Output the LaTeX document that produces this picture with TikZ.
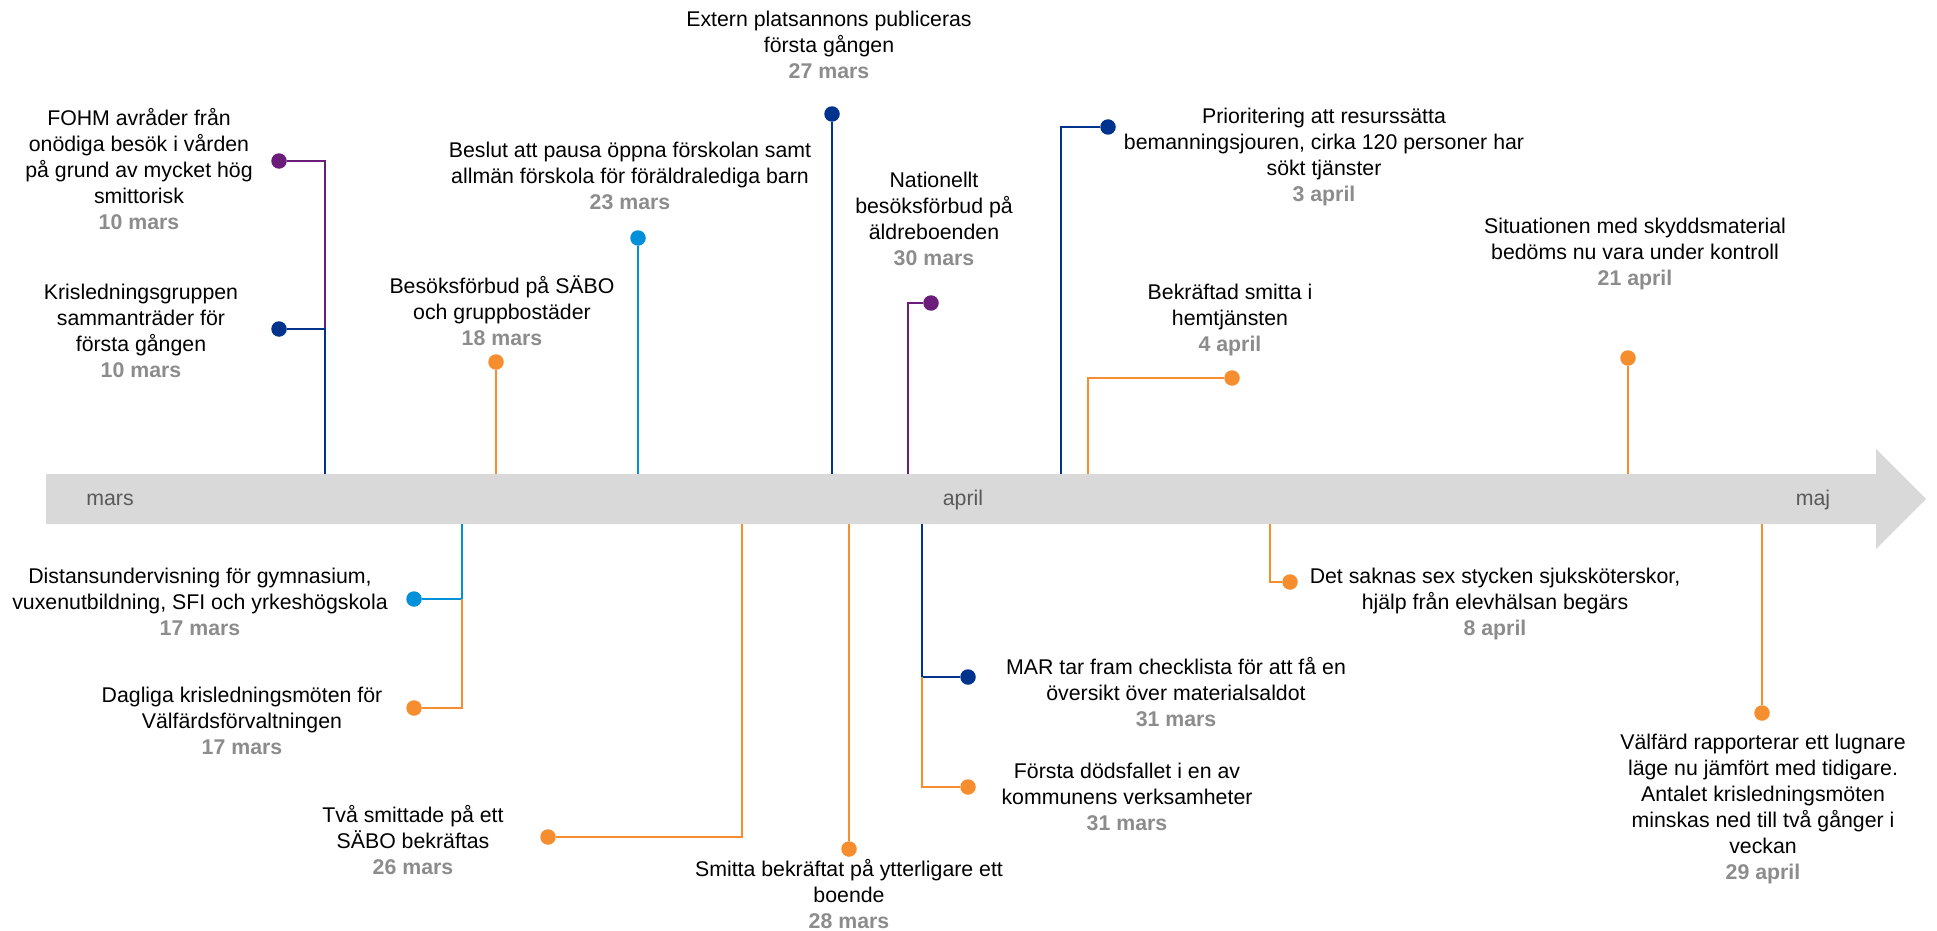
\documentclass[tikz,border=0pt]{standalone}
\usepackage{fontspec}
\setmainfont{Liberation Sans}
\definecolor{evpurple}{HTML}{6C1D7A}
\definecolor{evnavy}{HTML}{00338D}
\definecolor{evlight}{HTML}{0091DA}
\definecolor{evorange}{HTML}{F68D2E}
\definecolor{dategray}{HTML}{8C8C8C}
\definecolor{bandgray}{HTML}{D9D9D9}
\definecolor{monthgray}{HTML}{595959}
\newcommand{\evdate}[1]{{\color{dategray}\bfseries #1}}
\begin{document}
\begin{tikzpicture}[x=1pt,y=-1pt,
  % texts are placed by the baseline of their last line (the date)
  evtext/.style={align=center, anchor=base, inner sep=0pt, font=\fontsize{21.3}{26}\selectfont},
  evdot/.style={circle, fill=#1, inner sep=0pt, minimum size=15.5pt},
  conn/.style={draw=#1, line width=2.5pt},
  monthlabel/.style={text=monthgray, inner sep=0pt, font=\fontsize{21.3}{26}\selectfont}
]
\useasboundingbox (0,0) rectangle (1937,931);

% time axis arrow
\fill[bandgray] (46,474) -- (1876,474) -- (1876,449) -- (1926,499) -- (1876,549)
  -- (1876,524) -- (46,524) -- cycle;
\node[monthlabel] (mmars) at (110,500) {mars};
\node[monthlabel] (mapril) at (963,500) {april};
\node[monthlabel] (mmaj) at (1813,500) {maj};

% attachment points on the axis and connector bends
\coordinate (a1) at (325,474);
\coordinate (k1) at (325,329);
\coordinate (a2) at (496,474);
\coordinate (a3) at (638,474);
\coordinate (a4) at (832,474);
\coordinate (a5) at (908,474);
\coordinate (a6) at (1061,474);
\coordinate (a7) at (1088,474);
\coordinate (a8) at (1628,474);
\coordinate (b1) at (462,524);
\coordinate (k2) at (462,599);
\coordinate (b2) at (742,524);
\coordinate (b3) at (849,524);
\coordinate (b4) at (922,524);
\coordinate (k3) at (922,677);
\coordinate (b5) at (1270,524);
\coordinate (b6) at (1762,524);

% event markers
\node[evdot=evpurple] (dFohm) at (279,161) {};
\node[evdot=evnavy]   (dKris) at (279,329) {};
\node[evdot=evorange] (dSabo) at (496,362) {};
\node[evdot=evlight]  (dPaus) at (638,238) {};
\node[evdot=evnavy]   (dExt)  at (832,114) {};
\node[evdot=evpurple] (dNat)  at (931,303) {};
\node[evdot=evnavy]   (dPrio) at (1108,127) {};
\node[evdot=evorange] (dHemt) at (1232,378) {};
\node[evdot=evorange] (dSkydd) at (1628,358) {};
\node[evdot=evlight]  (dDist) at (414,599) {};
\node[evdot=evorange] (dDagl) at (414,708) {};
\node[evdot=evorange] (dTva)  at (548,837) {};
\node[evdot=evorange] (dBoen) at (849,849) {};
\node[evdot=evnavy]   (dMar)  at (968,677) {};
\node[evdot=evorange] (dDod)  at (968,787) {};
\node[evdot=evorange] (dSakn) at (1290,582) {};
\node[evdot=evorange] (dVal)  at (1762,713) {};

% connectors
\draw[conn=evpurple] (dFohm) -| (k1);
\draw[conn=evnavy]   (dKris) -| (a1);
\draw[conn=evorange] (dSabo) -- (a2);
\draw[conn=evlight]  (dPaus) -- (a3);
\draw[conn=evnavy]   (dExt) -- (a4);
\draw[conn=evpurple] (dNat) -| (a5);
\draw[conn=evnavy]   (dPrio) -| (a6);
\draw[conn=evorange] (dHemt) -| (a7);
\draw[conn=evorange] (dSkydd) -- (a8);
\draw[conn=evlight]  (dDist) -| (b1);
\draw[conn=evorange] (dDagl) -| (k2);
\draw[conn=evorange] (dTva) -| (b2);
\draw[conn=evorange] (dBoen) -- (b3);
\draw[conn=evnavy]   (dMar) -| (b4);
\draw[conn=evorange] (dDod) -| (k3);
\draw[conn=evorange] (dSakn) -| (b5);
\draw[conn=evorange] (dVal) -- (b6);

% event texts
\node[evtext] (tFohm) at (139,229) {FOHM avråder från\\onödiga besök i vården\\på grund av mycket hög\\smittorisk\\\evdate{10 mars}};
\node[evtext] (tKris) at (141,377) {Krisledningsgruppen\\sammanträder för\\första gången\\\evdate{10 mars}};
\node[evtext] (tSabo) at (502,345) {Besöksförbud på SÄBO\\och gruppbostäder\\\evdate{18 mars}};
\node[evtext] (tPaus) at (630,209) {Beslut att pausa öppna förskolan samt\\allmän förskola för föräldralediga barn\\\evdate{23 mars}};
\node[evtext] (tExt)  at (829,79) {Extern platsannons publiceras\\första gången\\\evdate{27 mars}};
\node[evtext] (tNat)  at (934,265) {Nationellt\\besöksförbud på\\äldreboenden\\\evdate{30 mars}};
\node[evtext] (tPrio) at (1324,201) {Prioritering att resurssätta\\bemanningsjouren, cirka 120 personer har\\sökt tjänster\\\evdate{3 april}};
\node[evtext] (tHemt) at (1230,351) {Bekräftad smitta i\\hemtjänsten\\\evdate{4 april}};
\node[evtext] (tSkydd) at (1635,285) {Situationen med skyddsmaterial\\bedöms nu vara under kontroll\\\evdate{21 april}};
\node[evtext] (tDist) at (200,635) {Distansundervisning för gymnasium,\\vuxenutbildning, SFI och yrkeshögskola\\\evdate{17 mars}};
\node[evtext] (tDagl) at (242,754) {Dagliga krisledningsmöten för\\Välfärdsförvaltningen\\\evdate{17 mars}};
\node[evtext] (tTva)  at (413,874) {Två smittade på ett\\SÄBO bekräftas\\\evdate{26 mars}};
\node[evtext] (tBoen) at (849,928) {Smitta bekräftat på ytterligare ett\\boende\\\evdate{28 mars}};
\node[evtext] (tMar)  at (1176,726) {MAR tar fram checklista för att få en\\översikt över materialsaldot\\\evdate{31 mars}};
\node[evtext] (tDod)  at (1127,830) {Första dödsfallet i en av\\kommunens verksamheter\\\evdate{31 mars}};
\node[evtext] (tSakn) at (1495,635) {Det saknas sex stycken sjuksköterskor,\\hjälp från elevhälsan begärs\\\evdate{8 april}};
\node[evtext] (tVal)  at (1763,879) {Välfärd rapporterar ett lugnare\\läge nu jämfört med tidigare.\\Antalet krisledningsmöten\\minskas ned till två gånger i\\veckan\\\evdate{29 april}};
\end{tikzpicture}
\end{document}
